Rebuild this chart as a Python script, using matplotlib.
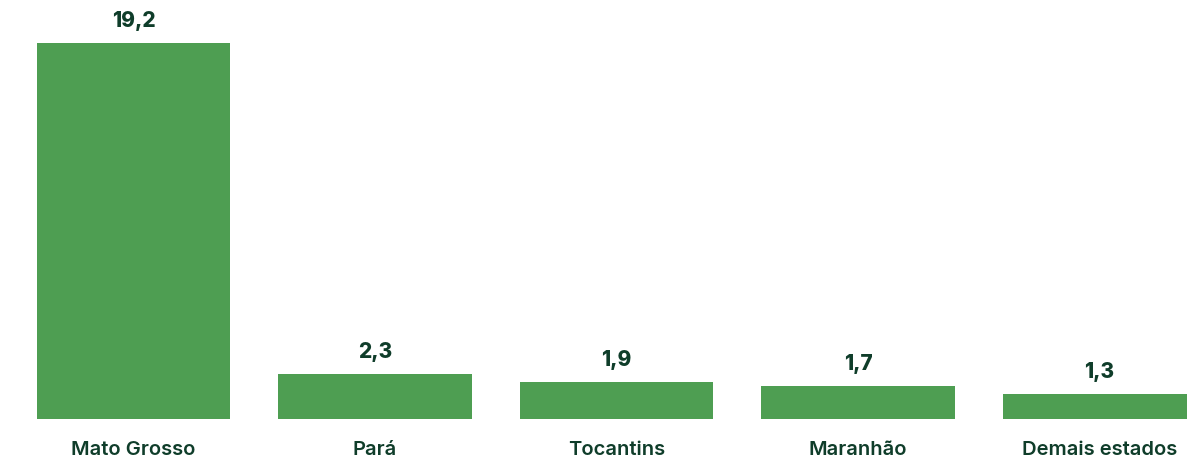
import matplotlib.pyplot as plt

estados = ["Mato Grosso", "Pará", "Tocantins", "Maranhão", "Demais estados"]
valores = [19.2, 2.3, 1.9, 1.7, 1.3]
rotulos = ["19,2", "2,3", "1,9", "1,7", "1,3"]

verde = "#4e9e52"
texto = "#0f3d2a"

fig = plt.figure(figsize=(11.87, 4.59), dpi=100)
ax = fig.add_axes([0, 0, 1, 1])

x = list(range(len(estados)))
ax.bar(x, valores, width=0.8, color=verde)

ax.set_xlim(-0.553, 4.362)
ax.set_ylim(-2.043, 21.396)
ax.axis("off")

for xi, v, r in zip(x, valores, rotulos):
    ax.annotate(r, (xi, v), xytext=(0, 8.5), textcoords="offset points",
                ha="center", va="bottom", fontsize=15, fontweight="heavy",
                family="Inter", color=texto)

for xi, nome in zip(x, estados):
    ax.annotate(nome, (xi, 0), xytext=(0, -26), textcoords="offset points",
                ha="center", va="baseline", fontsize=14.5, fontweight="semibold",
                family="Inter", color=texto)

fig.savefig("out.png", dpi=100)
